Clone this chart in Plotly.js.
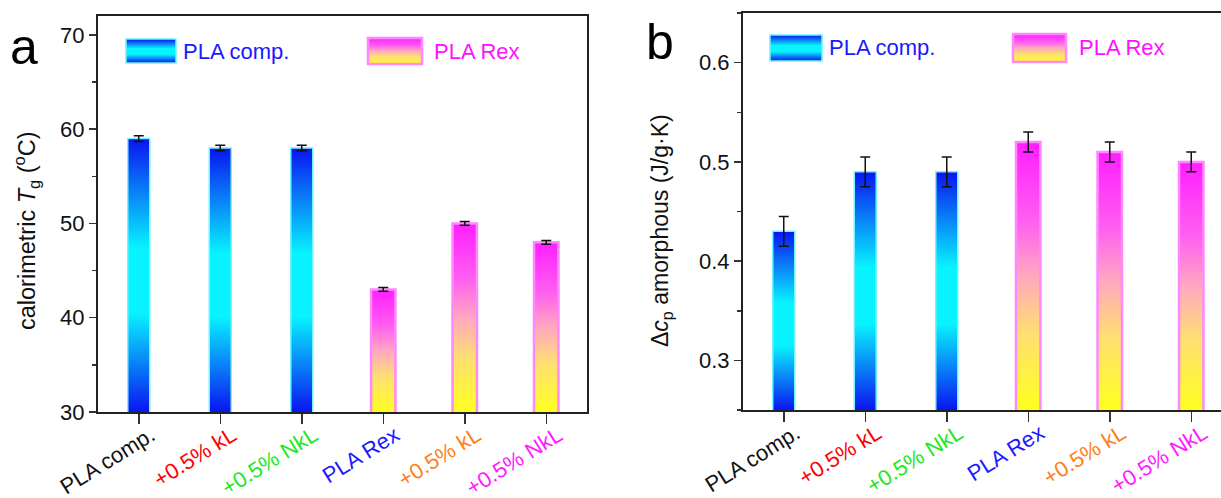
<!DOCTYPE html>
<html><head><meta charset="utf-8">
<script src="https://cdn.plot.ly/plotly-3.0.1.min.js"></script>
<style>html,body{margin:0;padding:0;overflow:hidden;background:#fff}#chart{width:1240px;height:498px}</style>
</head><body><div id="chart"></div>
<script>
// ---------- data ----------
const categories = ['PLA comp.', '+0.5% kL', '+0.5% NkL', 'PLA Rex', '+0.5% kL', '+0.5% NkL'];
const seriesNames = ['PLA comp.', 'PLA Rex'];
const seriesOf = [0, 0, 0, 1, 1, 1];
const tgValues = [59, 58, 58, 43, 50, 48];
const tgErrors = [0.3, 0.3, 0.3, 0.2, 0.2, 0.2];
const cpValues = [0.43, 0.49, 0.49, 0.52, 0.51, 0.50];
const cpErrors = [0.015, 0.015, 0.015, 0.01, 0.01, 0.01];
const panelLetters = ['a', 'b'];
const axisTitles = ['calorimetric <i>T</i><sub>g</sub> (<sup>o</sup>C)', 'Δ<i>c</i><sub>p</sub> amorphous (J/g·K)'];

// ---------- styles ----------
const tickColors = ['#111111', '#ff0000', '#1ee81e', '#1a1aff', '#ff7f1a', '#ff1aff'];
const seriesStyle = [
  {sentinel: 'rgb(0,0,254)', line: '#70f4ff', lw: 1.5, width: 0.27, text: '#1a1aff',
   stops: [[0, '#0a14f0'], [0.4, '#08f2ff'], [0.64, '#08f2ff'], [1, '#0a14f0']]},
  {sentinel: 'rgb(254,0,254)', line: '#ff88ff', lw: 2.5, width: 0.3, text: '#ff10ff',
   stops: [[0, '#ff1eff'], [0.3, '#ff60f0'], [0.5, '#ffa8c0'], [0.72, '#ffe070'], [1, '#ffff20']]}
];
const W = 1240, H = 498;
const FONT = 'Liberation Sans, Arial, sans-serif';
const px = x => x / W, py = y => 1 - y / H;

const xIdx = categories.map((c, i) => i);
const panels = [
  {values: tgValues, errors: tgErrors, xa: 'x', ya: 'y'},
  {values: cpValues, errors: cpErrors, xa: 'x2', ya: 'y2'}
];

const traces = [];
panels.forEach((p, pi) => {
  seriesNames.forEach((name, s) => {
    const idx = xIdx.filter(i => seriesOf[i] === s);
    traces.push({
      type: 'bar', name: name, xaxis: p.xa, yaxis: p.ya,
      x: idx, y: idx.map(i => p.values[i]),
      width: seriesStyle[s].width,
      marker: {color: seriesStyle[s].sentinel.replace(/,/g, ', '), line: {color: seriesStyle[s].line, width: seriesStyle[s].lw}},
      error_y: {type: 'data', array: idx.map(i => p.errors[i]), visible: true, color: '#111', thickness: 1.5, width: 5},
      showlegend: false, hoverinfo: 'x+y'
    });
  });
});

const tickText = categories.map((c, i) => '<span style="color:' + tickColors[i] + '">' + c + '</span>');

function xAxis(domain, anchor) {
  return {domain: domain, anchor: anchor, range: [-0.5, 5.5], tickmode: 'array', tickvals: xIdx, ticktext: tickText,
    tickangle: -32, ticks: 'outside', ticklen: 10, tickwidth: 1.5, tickcolor: '#333',
    ticklabelshift: 12, ticklabelstandoff: -10,
    showline: true, linewidth: 2, linecolor: '#222', mirror: true, showgrid: false, zeroline: false,
    tickfont: {family: FONT, size: 22, color: '#111'}, automargin: false, fixedrange: true};
}
function yAxis(domain, anchor, range, dtick, minor, fmt) {
  return {domain: domain, anchor: anchor, range: range, tick0: 0, dtick: dtick, tickformat: fmt,
    ticks: 'outside', ticklen: 7, tickwidth: 1.5, tickcolor: '#333',
    minor: {dtick: minor, ticks: 'outside', ticklen: 4, tickwidth: 1.5, tickcolor: '#333', showgrid: false},
    showline: true, linewidth: 2, linecolor: '#222', mirror: true, showgrid: false, zeroline: false,
    tickfont: {family: FONT, size: 22, color: '#111'}, automargin: false, fixedrange: true};
}

// legend boxes + texts, panel letters, axis titles
const legendPos = [
  [{x0: 126, x1: 176, y0: 39, y1: 63, tx: 181, ty: 52}, {x0: 368, x1: 422, y0: 38, y1: 64, tx: 432, ty: 52}],
  [{x0: 770, x1: 822, y0: 35, y1: 61, tx: 827, ty: 48}, {x0: 1013, x1: 1066, y0: 34, y1: 62, tx: 1077, ty: 48}]
];
const letterPos = [{x: 24, y: 47}, {x: 660, y: 42}];
const titlePos = [{x: 26, y: 231, size: 23.5}, {x: 662, y: 230, size: 23}];
const shapes = [], annotations = [];
legendPos.forEach(pl => pl.forEach((b, s) => {
  shapes.push({type: 'rect', xref: 'paper', yref: 'paper', x0: px(b.x0), x1: px(b.x1), y0: py(b.y1), y1: py(b.y0),
    fillcolor: seriesStyle[s].sentinel.replace(/,/g, ', '), line: {color: seriesStyle[s].line, width: seriesStyle[s].lw}});
  annotations.push({xref: 'paper', yref: 'paper', x: px(b.tx), y: py(b.ty), xanchor: 'left', yanchor: 'middle',
    text: seriesNames[s], showarrow: false, font: {family: FONT, size: 22, color: seriesStyle[s].text}});
}));
letterPos.forEach((l, i) => annotations.push({xref: 'paper', yref: 'paper', x: px(l.x), y: py(l.y), xanchor: 'center', yanchor: 'middle',
  text: panelLetters[i], showarrow: false, font: {family: FONT, size: 50, color: '#000'}}));
titlePos.forEach((t, i) => annotations.push({xref: 'paper', yref: 'paper', x: px(t.x), y: py(t.y), xanchor: 'center', yanchor: 'middle',
  textangle: -90, text: axisTitles[i], showarrow: false, font: {family: FONT, size: t.size, color: '#111'}}));

const layout = {
  width: W, height: H, margin: {l: 0, r: 0, t: 0, b: 0}, paper_bgcolor: '#fff', plot_bgcolor: '#fff',
  barmode: 'overlay', showlegend: false,
  xaxis: xAxis([px(98), px(587)], 'y'),
  yaxis: yAxis([py(412), py(16)], 'x', [30, 72], 10, 5, 'd'),
  xaxis2: xAxis([px(743), px(1232)], 'y2'),
  yaxis2: yAxis([py(410), py(13)], 'x2', [0.25, 0.65], 0.1, 0.05, '.1f'),
  shapes: shapes, annotations: annotations
};

function applyGradients(gd) {
  const NS = 'http://www.w3.org/2000/svg';
  const svg = gd.querySelector('svg.main-svg');
  let defs = svg.querySelector('defs');
  if (!defs) { defs = document.createElementNS(NS, 'defs'); svg.insertBefore(defs, svg.firstChild); }
  let n = 0;
  function makeGrad(stops, box) {
    const g = document.createElementNS(NS, 'linearGradient');
    const id = 'barGrad' + (n++);
    g.setAttribute('id', id);
    g.setAttribute('x1', '0'); g.setAttribute('x2', '0');
    if (box) { g.setAttribute('gradientUnits', 'userSpaceOnUse'); g.setAttribute('y1', box.y1); g.setAttribute('y2', box.y2); }
    else { g.setAttribute('y1', '0'); g.setAttribute('y2', '1'); }
    stops.forEach(([o, c]) => { const st = document.createElementNS(NS, 'stop'); st.setAttribute('offset', o); st.setAttribute('stop-color', c); g.appendChild(st); });
    defs.appendChild(g);
    return 'url(#' + id + ')';
  }
  const norm = f => (f || '').replace(/\s/g, '');
  gd.querySelectorAll('.barlayer .point path').forEach(p => {
    const s = seriesStyle.findIndex(st => st.sentinel === norm(p.style.fill));
    if (s < 0) return;
    const sub = p.closest('.subplot');
    const ya = sub && sub.classList.contains('x2y2') ? gd._fullLayout.yaxis2 : gd._fullLayout.yaxis;
    const bb = p.getBBox();
    const y1 = Math.max(bb.y, 0), y2 = Math.min(bb.y + bb.height, ya._length);
    p.style.fill = makeGrad(seriesStyle[s].stops, {y1: y1, y2: y2});
  });
  gd.querySelectorAll('.shapelayer path').forEach(p => {
    const s = seriesStyle.findIndex(st => st.sentinel === norm(p.style.fill));
    if (s < 0) return;
    p.style.fill = makeGrad(seriesStyle[s].stops, null);
  });
}

Plotly.newPlot('chart', traces, layout, {displayModeBar: false, staticPlot: true}).then(applyGradients);
</script>
</body></html>
